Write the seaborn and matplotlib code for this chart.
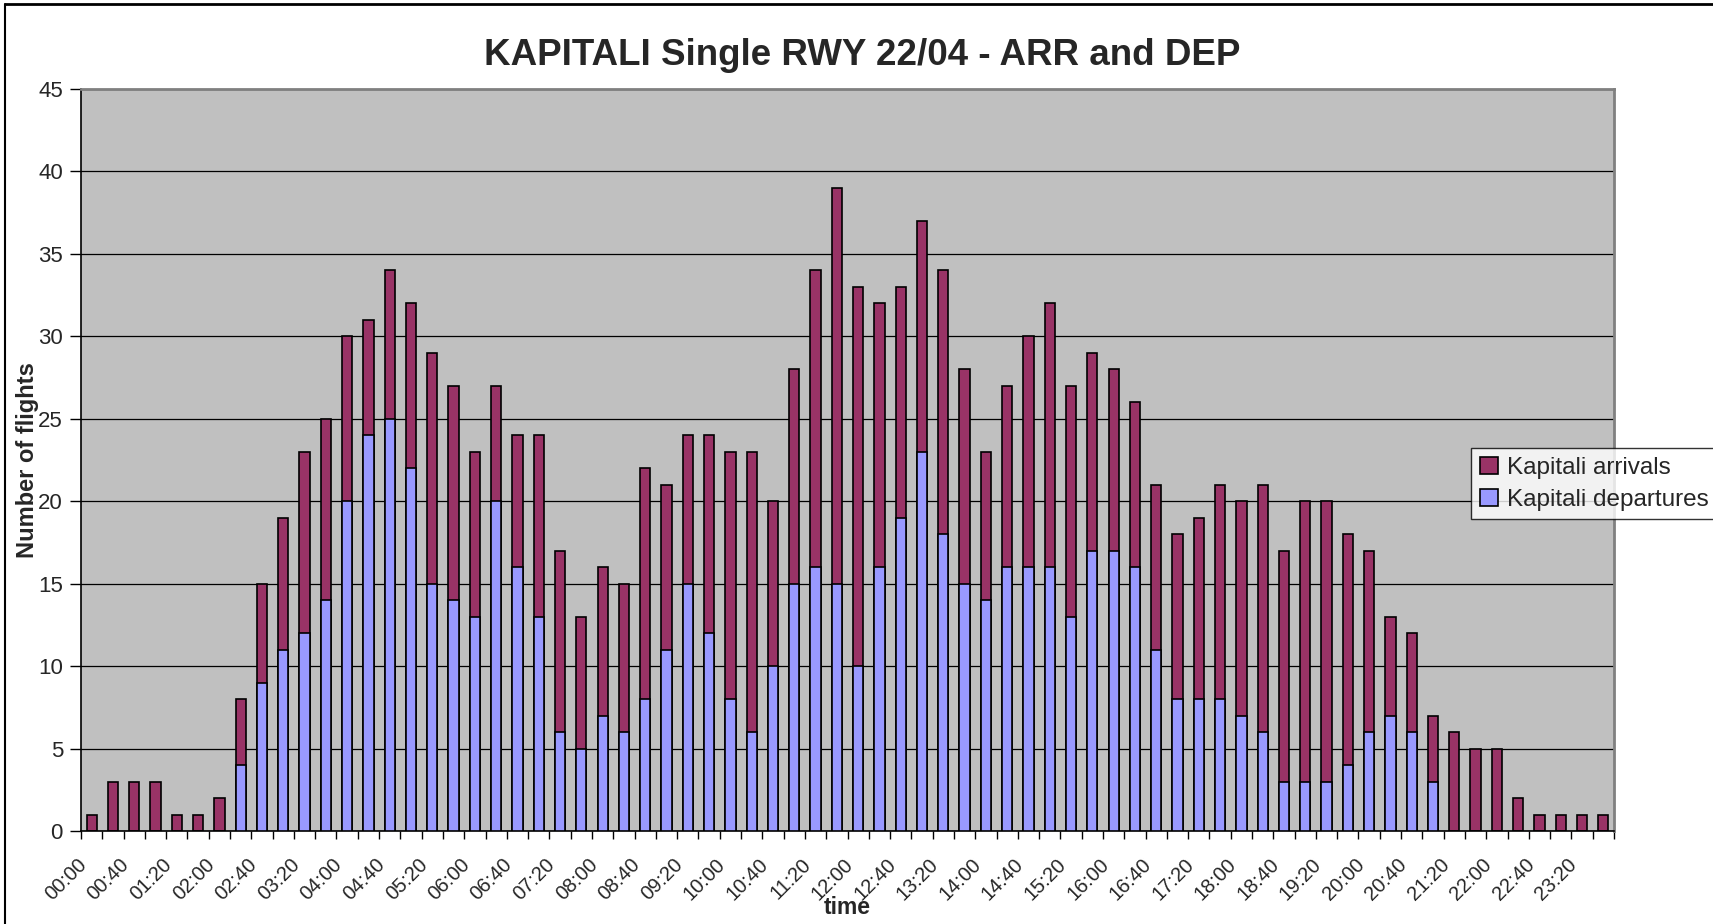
import matplotlib
matplotlib.use("Agg")
import matplotlib.pyplot as plt
from matplotlib.patches import Patch
from matplotlib.lines import Line2D
import matplotlib.transforms as mtransforms
import seaborn as sns
import numpy as np
import pandas as pd

times = ["00:00", "00:20", "00:40", "01:00", "01:20", "01:40", "02:00", "02:20", "02:40", "03:00",
         "03:20", "03:40", "04:00", "04:20", "04:40", "05:00", "05:20", "05:40", "06:00", "06:20",
         "06:40", "07:00", "07:20", "07:40", "08:00", "08:20", "08:40", "09:00", "09:20", "09:40",
         "10:00", "10:20", "10:40", "11:00", "11:20", "11:40", "12:00", "12:20", "12:40", "13:00",
         "13:20", "13:40", "14:00", "14:20", "14:40", "15:00", "15:20", "15:40", "16:00", "16:20",
         "16:40", "17:00", "17:20", "17:40", "18:00", "18:20", "18:40", "19:00", "19:20", "19:40",
         "20:00", "20:20", "20:40", "21:00", "21:20", "21:40", "22:00", "22:20", "22:40", "23:00",
         "23:20", "23:40"]

departures = [0, 0, 0, 0, 0, 0, 0, 4, 9, 11,
              12, 14, 20, 24, 25, 22, 15, 14, 13, 20,
              16, 13, 6, 5, 7, 6, 8, 11, 15, 12,
              8, 6, 10, 15, 16, 15, 10, 16, 19, 23,
              18, 15, 14, 16, 16, 16, 13, 17, 17, 16,
              11, 8, 8, 8, 7, 6, 3, 3, 3, 4,
              6, 7, 6, 3, 0, 0, 0, 0, 0, 0, 0, 0]

arrivals = [1, 3, 3, 3, 1, 1, 2, 4, 6, 8,
            11, 11, 10, 7, 9, 10, 14, 13, 10, 7,
            8, 11, 11, 8, 9, 9, 14, 10, 9, 12,
            15, 17, 10, 13, 18, 24, 23, 16, 14, 14,
            16, 13, 9, 11, 14, 16, 14, 12, 11, 10,
            10, 10, 11, 13, 13, 15, 14, 17, 17, 14,
            11, 6, 6, 4, 6, 5, 5, 2, 1, 1, 1, 1]

ARR_COLOR = "#993366"
DEP_COLOR = "#9999FF"
BG_COLOR = "#C0C0C0"

df = pd.DataFrame({"time": times, "dep": departures, "arr": arrivals})
df["total"] = df["dep"] + df["arr"]

sns.set_style("white")
plt.rcParams["font.family"] = ["Liberation Sans", "DejaVu Sans"]

fig = plt.figure(figsize=(17.13, 9.24), dpi=100)
ax = fig.add_axes([81 / 1713, 1 - 831 / 924, (1614 - 81) / 1713, (831 - 89) / 924])
ax.set_facecolor(BG_COLOR)

# stacked: total (arrivals on top) then departures from zero
sns.barplot(data=df, x="time", y="total", color=ARR_COLOR, saturation=1, width=0.48,
            edgecolor="black", linewidth=1.2, ax=ax, zorder=3)
sns.barplot(data=df, x="time", y="dep", color=DEP_COLOR, saturation=1, width=0.48,
            edgecolor="black", linewidth=1.2, ax=ax, zorder=4)

n = len(times)
ax.set_xlim(-0.5, n - 0.5)
ax.set_ylim(0, 45)
ax.set_yticks(np.arange(0, 46, 5))
ax.tick_params(axis="y", labelsize=16, length=8, width=1, direction="out", color="black", pad=5, left=True)

ax.set_xticks(np.arange(0, n, 2))
ax.set_xticklabels(times[::2], rotation=45, ha="right", va="center", rotation_mode="anchor", fontsize=14.5)
ax.set_xticks(np.arange(-0.5, n, 1), minor=True)
ax.tick_params(axis="x", which="major", length=0, pad=22)
ax.tick_params(axis="x", which="minor", length=6, width=1, direction="out", color="black", bottom=True)
shift = mtransforms.ScaledTranslation(-8 / 100, 0, fig.dpi_scale_trans)
for lbl in ax.get_xticklabels():
    lbl.set_transform(lbl.get_transform() + shift)

ax.yaxis.grid(True, color="black", linewidth=0.9, zorder=1)
ax.xaxis.grid(False)
ax.set_axisbelow(True)

for s in ["left", "bottom"]:
    ax.spines[s].set_color("black")
    ax.spines[s].set_linewidth(1.2)
for s in ["top", "right"]:
    ax.spines[s].set_color("#808080")
    ax.spines[s].set_linewidth(2)

ax.set_xlabel("time", fontsize=16.5, fontweight="bold", labelpad=0)
ax.set_ylabel("Number of flights", fontsize=17, fontweight="bold")
ax.xaxis.set_label_coords(0.5, -0.088)
ax.yaxis.set_label_coords(-0.0276, 0.5)

fig.text(862 / 1713, 1 - 55.5 / 924, "KAPITALI Single RWY 22/04 - ARR and DEP",
         ha="center", va="center", fontsize=26.5, fontweight="bold")

handles = [Patch(facecolor=ARR_COLOR, edgecolor="black", linewidth=1.2, label="Kapitali arrivals"),
           Patch(facecolor=DEP_COLOR, edgecolor="black", linewidth=1.2, label="Kapitali departures")]
leg = ax.legend(handles=handles, loc="upper left", bbox_to_anchor=(1471 / 1713, 1 - 448 / 924),
                bbox_transform=fig.transFigure, fontsize=17.5, frameon=True, fancybox=False,
                handlelength=0.75, handleheight=0.75, handletextpad=0.4, borderpad=0.35,
                labelspacing=0.4, borderaxespad=0)
leg.get_frame().set_edgecolor("black")
leg.get_frame().set_linewidth(1)
leg.get_frame().set_facecolor("white")

# figure border (top and left visible)
fig.add_artist(Line2D([5 / 1713, 1], [1 - 4 / 924, 1 - 4 / 924], transform=fig.transFigure, color="black", linewidth=2))
fig.add_artist(Line2D([5 / 1713, 5 / 1713], [0, 1 - 4 / 924], transform=fig.transFigure, color="black", linewidth=1.5))

fig.savefig("out.png", dpi=100, facecolor="white")
